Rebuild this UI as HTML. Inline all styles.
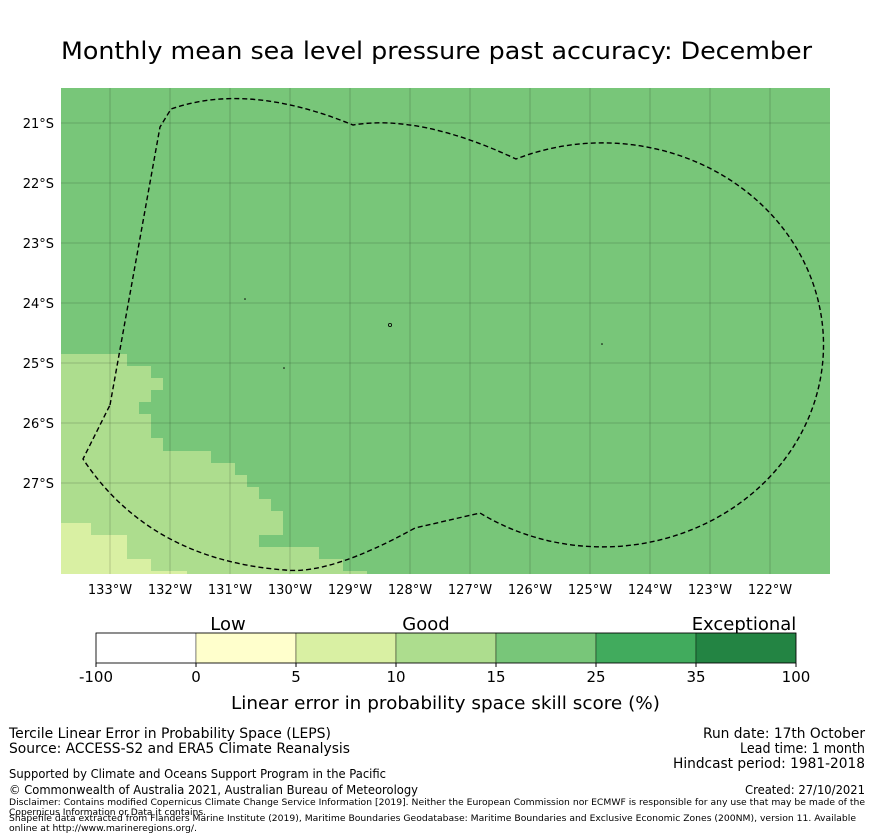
<!DOCTYPE html>
<html><head><meta charset="utf-8"><style>
body{margin:0;background:#fff;font-family:"DejaVu Sans","Liberation Sans",sans-serif;}
svg{display:block}
</style></head><body>
<svg width="873" height="839" xmlns="http://www.w3.org/2000/svg">
<text x="61" y="59" font-size="24" textLength="751" lengthAdjust="spacingAndGlyphs">Monthly mean sea level pressure past accuracy: December</text>
<g>
<rect x="61" y="88" width="769" height="486" fill="#78c679"/>
<polygon fill="#addd8e" points="61,354 127,354 127,366 151,366 151,378 163,378 163,390 151,390 151,402 139,402 139,414 151,414 151,438 163,438 163,451 211,451 211,463 235,463 235,475 247,475 247,487 259,487 259,499 271,499 271,511 283,511 283,535 259,535 259,547 319,547 319,559 343,559 343,571 367,571 367,574 61,574"/>
<polygon fill="#d9f0a3" points="61,523 91,523 91,535 127,535 127,559 151,559 151,571 187,571 187,574 61,574"/>
<g id="grid" stroke="#000" stroke-opacity="0.22" stroke-width="0.8"></g>
<path fill="none" stroke="#000" stroke-width="1.4" stroke-dasharray="5,3"
d="M110,405 L160,127 L171,109 Q248,82 353,125 Q420,114 516,159 A221 202 0 1 1 480,513 L415,528 Q330,575 285,570 Q150,560 83,459 Z"/>
<g fill="#000"><circle cx="245" cy="299" r="0.8"/><circle cx="390" cy="325" r="1.6" fill="none" stroke="#000" stroke-width="0.8"/><circle cx="602" cy="344" r="0.8"/><circle cx="284" cy="368" r="0.8"/></g>
</g>
<g id="xticks" font-size="13" text-anchor="middle"></g>
<g id="yticks" font-size="13" text-anchor="end"></g>
<g id="cbar"></g>
<text x="228" y="630" font-size="18" text-anchor="middle">Low</text>
<text x="426" y="630" font-size="18" text-anchor="middle">Good</text>
<text x="744" y="630" font-size="18" text-anchor="middle">Exceptional</text>
<text x="231" y="709" font-size="18" textLength="429" lengthAdjust="spacingAndGlyphs">Linear error in probability space skill score (%)</text>
<g font-family="'DejaVu Sans',sans-serif" lengthAdjust="spacingAndGlyphs">
<text x="9" y="738" font-size="14" textLength="322" lengthAdjust="spacingAndGlyphs">Tercile Linear Error in Probability Space (LEPS)</text>
<text x="9" y="753" font-size="14" textLength="341" lengthAdjust="spacingAndGlyphs">Source: ACCESS-S2 and ERA5 Climate Reanalysis</text>
<text x="9" y="778" font-size="12" textLength="377" lengthAdjust="spacingAndGlyphs">Supported by Climate and Oceans Support Program in the Pacific</text>
<text x="9" y="794" font-size="12" textLength="409" lengthAdjust="spacingAndGlyphs">© Commonwealth of Australia 2021, Australian Bureau of Meteorology</text>
<text x="9" y="805" font-size="9" textLength="856" lengthAdjust="spacingAndGlyphs">Disclaimer: Contains modified Copernicus Climate Change Service Information [2019]. Neither the European Commission nor ECMWF is responsible for any use that may be made of the</text>
<text x="9" y="815" font-size="9" textLength="197" lengthAdjust="spacingAndGlyphs">Copernicus Information or Data it contains.</text>
<text x="9" y="821" font-size="9" textLength="847" lengthAdjust="spacingAndGlyphs">Shapefile data extracted from Flanders Marine Institute (2019), Maritime Boundaries Geodatabase: Maritime Boundaries and Exclusive Economic Zones (200NM), version 11. Available</text>
<text x="9" y="831" font-size="9" textLength="188" lengthAdjust="spacingAndGlyphs">online at http://www.marineregions.org/.</text>
<g text-anchor="end" font-size="14">
<text x="865" y="738" textLength="162" lengthAdjust="spacingAndGlyphs">Run date: 17th October</text>
<text x="865" y="753" textLength="125" lengthAdjust="spacingAndGlyphs">Lead time: 1 month</text>
<text x="865" y="768" textLength="192" lengthAdjust="spacingAndGlyphs">Hindcast period: 1981-2018</text>
<text x="865" y="794" font-size="12" textLength="120" lengthAdjust="spacingAndGlyphs">Created: 27/10/2021</text>
</g></g>
</svg>
<script>
const lonTicks=[133,132,131,130,129,128,127,126,125,124,123,122];
const latTicks=[21,22,23,24,25,26,27];
const cbarBounds=["-100","0","5","10","15","25","35","100"];
const cbarColors=["#ffffff","#ffffcc","#d9f0a3","#addd8e","#78c679","#41ab5d","#238443"];
const NS="http://www.w3.org/2000/svg";
function xLon(l){return 110+(133-l)*60;}
function yLat(l){return 123+(l-21)*60;}
function mk(t,a,p){const e=document.createElementNS(NS,t);for(const k in a)e.setAttribute(k,a[k]);p.appendChild(e);return e;}
const grid=document.getElementById('grid'),xt=document.getElementById('xticks'),yt=document.getElementById('yticks'),cb=document.getElementById('cbar');
lonTicks.forEach(l=>{const x=xLon(l);
 const g=mk('line',{x1:x,x2:x,y1:88,y2:574},grid);
 
 
 const t=mk('text',{x:x,y:594},xt);t.textContent=l+'°W';
 
 });
latTicks.forEach(l=>{const y=yLat(l);
 const g=mk('line',{x1:61,x2:830,y1:y,y2:y},grid);
 
 
 const t=mk('text',{x:54,y:y+5},yt);t.textContent=l+'°S';
 
 });
const cx0=96,cw=100;
cbarColors.forEach((c,i)=>{const r=mk('rect',{x:cx0+i*cw,y:633,width:cw,height:30,fill:c,stroke:'#000','stroke-width':0.4},cb);
 
 });
mk('rect',{x:cx0,y:633,width:cw*cbarColors.length,height:30,fill:'none',stroke:'#000','stroke-width':0.8},cb);
cbarBounds.forEach((b,i)=>{const x=cx0+i*cw;
 mk('line',{x1:x,x2:x,y1:663,y2:667,stroke:'#000'},cb);
 const t=mk('text',{x:x,y:682,'font-size':15,'text-anchor':'middle'},cb);t.textContent=b;
 
 });
</script>
</body></html>
